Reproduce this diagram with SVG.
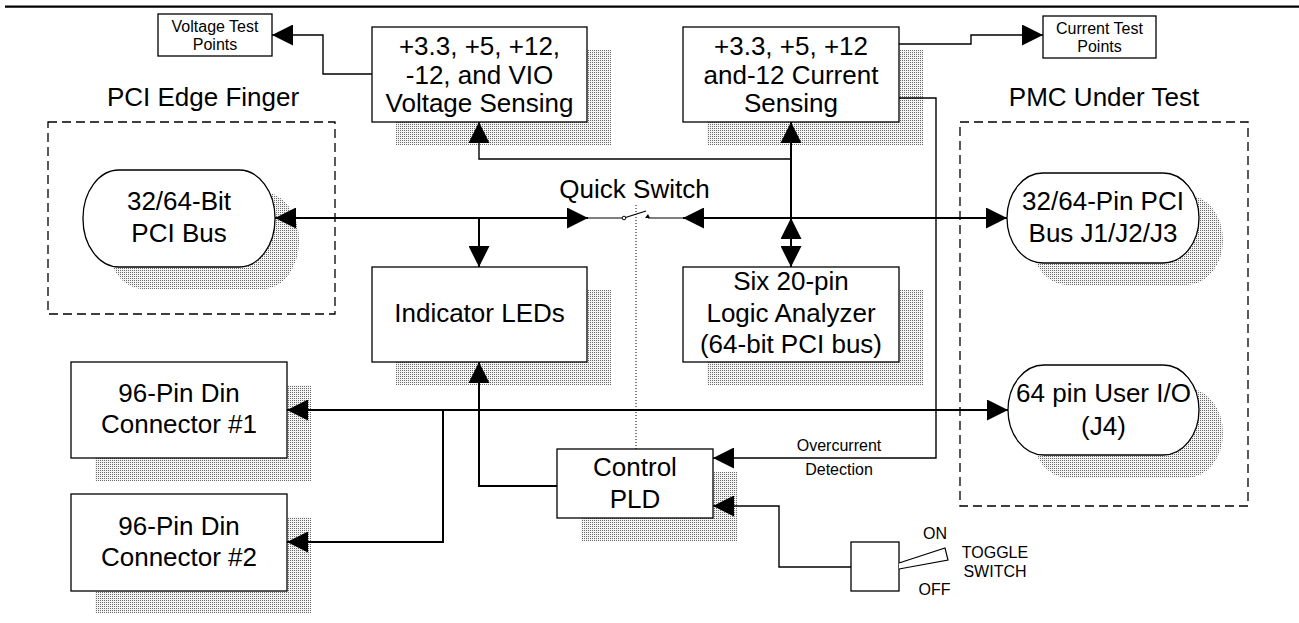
<svg xmlns="http://www.w3.org/2000/svg" width="1299" height="623" viewBox="0 0 1299 623">
<style>
.bx{fill:#fff;stroke:#000;stroke-width:1.3}
.sh{fill:url(#dots);stroke:none}
.dash{fill:none;stroke:#000;stroke-width:1.3;stroke-dasharray:9,5}
.t{font-family:"Liberation Sans",Arial,sans-serif;font-size:26px;fill:#000;text-anchor:middle}
.s{font-family:"Liberation Sans",Arial,sans-serif;font-size:16px;fill:#000;text-anchor:middle}
.c{fill:none;stroke:#000;stroke-width:2}
.cs{fill:none;stroke:#000;stroke-width:1.4}
</style>
<defs>
<pattern id="dots" width="2" height="2" patternUnits="userSpaceOnUse">
<rect width="2" height="2" fill="#f4f4f4"/>
<rect width="1" height="1" fill="#6a6a6a"/>
</pattern>
<marker id="ah" markerUnits="userSpaceOnUse" markerWidth="21" markerHeight="21" refX="21" refY="10.5" orient="auto-start-reverse" viewBox="0 0 21 21">
<path d="M0,0 L21,10.5 L0,21 z" fill="#000"/>
</marker>
</defs>
<line x1="5" y1="6.7" x2="1299" y2="6.7" stroke="#000" stroke-width="2.2"/>

<g id="pci-edge-finger">
<text class="t" x="203" y="106">PCI Edge Finger</text>
<rect class="dash" x="48" y="122" width="287" height="192"/>
</g>
<g id="pmc-under-test">
<text class="t" x="1104" y="106">PMC Under Test</text>
<rect class="dash" x="960" y="122" width="288" height="384"/>
</g>

<g id="voltage-test-points">
<rect class="bx" x="158" y="14" width="114" height="42"/>
<text class="s" x="215" y="32">Voltage Test</text>
<text class="s" x="215" y="50">Points</text>
</g>
<g id="current-test-points">
<rect class="bx" x="1043" y="16" width="113" height="42"/>
<text class="s" x="1099.5" y="34">Current Test</text>
<text class="s" x="1099.5" y="52">Points</text>
</g>

<g id="voltage-sensing">
<rect class="sh" x="396" y="50" width="215" height="95"/>
<rect class="bx" x="372" y="27" width="215" height="95"/>
<text class="t" x="479.5" y="55">+3.3, +5, +12,</text>
<text class="t" x="479.5" y="83.5">-12, and VIO</text>
<text class="t" x="479.5" y="112">Voltage Sensing</text>
</g>
<g id="current-sensing">
<rect class="sh" x="707" y="50" width="216" height="95"/>
<rect class="bx" x="683" y="27" width="216" height="95"/>
<text class="t" x="791" y="55">+3.3, +5, +12</text>
<text class="t" x="791" y="83.5">and-12 Current</text>
<text class="t" x="791" y="112">Sensing</text>
</g>

<g id="pci-bus">
<rect class="sh" x="107" y="192" width="192" height="97" rx="36" ry="48"/>
<rect class="bx" x="83" y="170" width="192" height="97" rx="36" ry="48"/>
<text class="t" x="179" y="210">32/64-Bit</text>
<text class="t" x="179" y="242">PCI Bus</text>
</g>
<g id="pmc-pci-bus">
<rect class="sh" x="1031" y="195" width="192" height="90" rx="36" ry="45"/>
<rect class="bx" x="1007" y="173" width="192" height="90" rx="36" ry="45"/>
<text class="t" x="1103" y="210">32/64-Pin PCI</text>
<text class="t" x="1103" y="242">Bus J1/J2/J3</text>
</g>
<g id="user-io">
<rect class="sh" x="1032" y="388" width="191" height="90" rx="36" ry="45"/>
<rect class="bx" x="1008" y="365" width="191" height="90" rx="36" ry="45"/>
<text class="t" x="1103.5" y="402">64 pin User I/O</text>
<text class="t" x="1103.5" y="435">(J4)</text>
</g>

<g id="indicator-leds">
<rect class="sh" x="396" y="290" width="215" height="95"/>
<rect class="bx" x="372" y="267" width="215" height="95"/>
<text class="t" x="479.5" y="322">Indicator LEDs</text>
</g>
<g id="logic-analyzer">
<rect class="sh" x="707" y="290" width="216" height="95"/>
<rect class="bx" x="683" y="267" width="216" height="95"/>
<text class="t" x="791" y="290">Six 20-pin</text>
<text class="t" x="791" y="322">Logic Analyzer</text>
<text class="t" x="791" y="353">(64-bit PCI bus)</text>
</g>

<g id="din-1">
<rect class="sh" x="95" y="385" width="216" height="96"/>
<rect class="bx" x="71" y="362" width="216" height="96"/>
<text class="t" x="179" y="402">96-Pin Din</text>
<text class="t" x="179" y="433">Connector #1</text>
</g>
<g id="din-2">
<rect class="sh" x="95" y="517" width="216" height="96"/>
<rect class="bx" x="71" y="494" width="216" height="97"/>
<text class="t" x="179" y="535">96-Pin Din</text>
<text class="t" x="179" y="566">Connector #2</text>
</g>

<g id="control-pld">
<rect class="sh" x="581" y="472" width="156" height="69"/>
<rect class="bx" x="557" y="449" width="156" height="69"/>
<text class="t" x="635" y="476">Control</text>
<text class="t" x="635" y="508">PLD</text>
</g>

<g id="toggle-switch">
<rect class="bx" x="851" y="542" width="48" height="49"/>
<path d="M899,563 L945,548 L948,560 L899,569" fill="#fff" stroke="#000" stroke-width="1.2"/>
<text class="s" x="935" y="539">ON</text>
<text class="s" x="934.5" y="595">OFF</text>
<text class="s" x="995" y="558">TOGGLE</text>
<text class="s" x="995" y="577">SWITCH</text>
</g>

<g id="quick-switch">
<text class="t" x="634.5" y="198">Quick Switch</text>
<line x1="588" y1="218" x2="622" y2="218" stroke="#000" stroke-width="1.2"/>
<circle cx="624" cy="218" r="1.8" fill="#fff" stroke="#000" stroke-width="1"/>
<line x1="625.5" y1="217.5" x2="646" y2="211" stroke="#000" stroke-width="1.2"/>
<path d="M645,218 L648,214 L650,218 z" fill="#000"/>
<line x1="648" y1="218" x2="684" y2="218" stroke="#000" stroke-width="1.2"/>
</g>

<g id="overcurrent-label">
<text class="s" x="839" y="451">Overcurrent</text>
<text class="s" x="839" y="475">Detection</text>
</g>

<g id="connectors">
<polyline class="cs" points="372,74 323,74 323,35 272,35" marker-end="url(#ah)"/>
<polyline class="cs" points="899,44 971,44 971,35 1043,35" marker-end="url(#ah)"/>
<polyline class="cs" points="899,98 936,98 936,458 713,458" marker-end="url(#ah)"/>
<line class="c" x1="275" y1="218" x2="588" y2="218" marker-start="url(#ah)" marker-end="url(#ah)"/>
<line class="c" x1="479" y1="218" x2="479" y2="267" marker-end="url(#ah)"/>
<line class="c" x1="683" y1="218" x2="1007" y2="218" marker-start="url(#ah)" marker-end="url(#ah)"/>
<line class="c" x1="791" y1="218" x2="791" y2="122" marker-end="url(#ah)"/>
<polyline class="cs" points="791,159 479,159 479,122" marker-end="url(#ah)"/>
<line class="c" x1="791" y1="218" x2="791" y2="267" marker-start="url(#ah)" marker-end="url(#ah)"/>
<polyline class="c" points="557,486 479,486 479,362" marker-end="url(#ah)"/>
<line class="c" x1="287" y1="410" x2="1008" y2="410" marker-start="url(#ah)" marker-end="url(#ah)"/>
<polyline class="c" points="443,410 443,542 287,542" marker-end="url(#ah)"/>
<polyline class="cs" points="851,567 779,567 779,506 713,506" marker-end="url(#ah)"/>
<line x1="636" y1="205" x2="636" y2="449" stroke="#000" stroke-width="1" stroke-dasharray="1,2"/>
</g>
</svg>
